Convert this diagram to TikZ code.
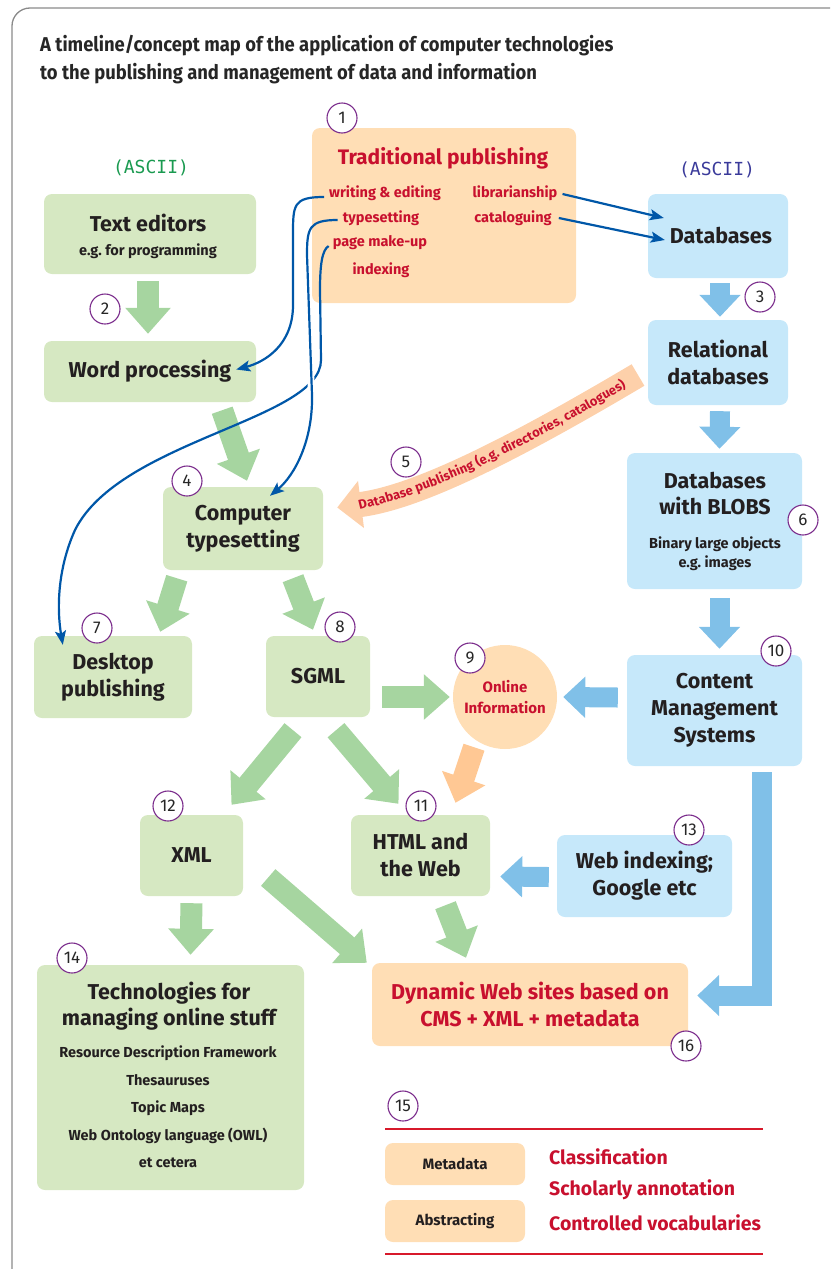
\documentclass[tikz,border=0pt]{standalone}
\usepackage{fontspec}
\usetikzlibrary{arrows.meta,calc,decorations.text}
\newfontfamily\cf{Fira Sans}
\newfontfamily\tf[FakeStretch=0.92]{Fira Sans}
\newfontfamily\nf{Fira Sans}
\newfontfamily\mf{DejaVu Sans Mono}
\newcommand\myfs[2]{\fontsize{#1}{#2}\selectfont}
\definecolor{boxgreen}{HTML}{D6E8C2}
\definecolor{arrgreen}{HTML}{A6D5A0}
\definecolor{boxblue}{HTML}{C6E8FA}
\definecolor{arrblue}{HTML}{80C0E8}
\definecolor{boxorange}{HTML}{FFDEB5}
\definecolor{arrorange}{HTML}{FFC894}
\definecolor{band}{HTML}{FDD0AA}
\definecolor{textred}{HTML}{C8102E}
\definecolor{textdark}{HTML}{231F20}
\definecolor{connblue}{HTML}{0057A8}
\definecolor{numpurple}{HTML}{7B2C8C}
\definecolor{asciigreen}{HTML}{1A9A50}
\definecolor{asciiblue}{HTML}{3A3A9A}
\definecolor{legendred}{HTML}{D7192B}
\definecolor{framegray}{HTML}{8A8A8A}
\begin{document}
\begin{tikzpicture}[x=1pt,y=-1pt,
  gbox/.style={fill=boxgreen, rounded corners=8pt, inner sep=0pt, align=center, text=textdark, font=\cf\bfseries\myfs{21.5}{27}},
  bbox/.style={fill=boxblue, rounded corners=8pt, inner sep=0pt, align=center, text=textdark, font=\cf\bfseries\myfs{21.5}{27}},
  obox/.style={fill=boxorange, rounded corners=8pt, inner sep=0pt, align=center, text=textred, font=\cf\bfseries\myfs{21.5}{27}},
  hd/.style={font=\cf\bfseries\myfs{21.5}{26}, text=textdark, align=center, inner sep=0pt},
  sm/.style={font=\cf\bfseries\myfs{14.5}{19}, text=textdark, align=center, inner sep=0pt},
  reditem/.style={font=\cf\bfseries\myfs{14.5}{18}, text=textred, inner sep=0pt},
  legtext/.style={font=\cf\bfseries\myfs{19.5}{22}, text=textred, inner sep=0pt, anchor=west},
  num/.style={circle, draw=numpurple, fill=white, line width=1.1pt, minimum size=30pt, inner sep=0pt, font=\nf\myfs{17}{17}, text=black!85},
  garrow/.style={draw=arrgreen, line width=22pt, -{Triangle[width=44pt,length=26pt]}},
  barrow/.style={draw=arrblue, line width=20pt, -{Triangle[width=40pt,length=22pt]}},
  oarrow/.style={draw=arrorange, line width=22pt, -{Triangle[width=44pt,length=26pt]}},
  conn/.style={draw=connblue, line width=2.2pt, -{Stealth[length=14pt,width=11pt,inset=3pt]}},
  ascii/.style={font=\mf\myfs{18}{18}, inner sep=0pt}
]
\useasboundingbox (0,0) rectangle (830,1269);
\clip (0,0) rectangle (830,1269);
\draw[framegray, line width=1.3pt, rounded corners=18pt] (12,8) rectangle (870,1300);

% title
\node[anchor=west, font=\tf\bfseries\myfs{20}{28}, text=black!85, align=left, inner sep=0pt] (title) at (40,60)
  {A timeline/concept map of the application of computer technologies\\to the publishing and management of data and information};

% ascii labels
\node[ascii, text=asciigreen] (asg) at (151,168) {(ASCII)};
\node[ascii, text=asciiblue] (asb) at (717,170) {(ASCII)};

% Traditional publishing
\node[obox, minimum width=264pt, minimum height=175pt] (tp) at (444,215.5) {};
\node[font=\cf\bfseries\myfs{21}{24}, text=textred, inner sep=0pt] (tpt) at (443,158) {Traditional publishing};
\node[reditem] (we) at (385,193) {writing \& editing};
\node[reditem] (ts) at (381,218) {typesetting};
\node[reditem] (pm) at (380,243) {page make-up};
\node[reditem] (ix) at (381,270) {indexing};
\node[reditem] (lib) at (515,193) {librarianship};
\node[reditem] (cat) at (513,218) {cataloguing};

% left column boxes
\node[gbox, minimum width=212pt, minimum height=80pt] (te) at (150,234) {};
\node[hd] (tet) at (148,223) {Text editors};
\node[sm] (tes) at (148,251) {e.g.\ for programming};
\node[gbox, minimum width=212pt, minimum height=61pt] (wp) at (150,371.5) {Word processing};
\node[gbox, minimum width=160pt, minimum height=83pt] (ct) at (243,528.5) {Computer\\typesetting};
\node[gbox, minimum width=158pt, minimum height=82pt] (dp) at (113,677) {Desktop\\publishing};
\node[gbox, minimum width=104pt, minimum height=81pt] (sgml) at (318,676.5) {SGML};
\node[circle, fill=boxorange, minimum size=104pt, inner sep=0pt, align=center, text=textred, font=\cf\bfseries\myfs{15}{21}] (oi) at (505,697) {Online\\Information};
\node[gbox, minimum width=103pt, minimum height=81pt] (xml) at (191.5,855.5) {XML};
\node[gbox, minimum width=139pt, minimum height=81pt] (html) at (420.5,855.5) {HTML and\\the Web};
\node[gbox, minimum width=267pt, minimum height=225pt] (tech) at (170.5,1077.5) {};
\node[hd] (techt) at (169,1006.5) {Technologies for\\managing online stuff};
\node[sm, font=\cf\bfseries\myfs{14.5}{27.5}] (techs) at (168,1107) {Resource Description Framework\\Thesauruses\\Topic Maps\\Web Ontology language (OWL)\\et cetera};
\node[obox, minimum width=316pt, minimum height=83pt] (dyn) at (530,1004.5) {Dynamic Web sites based on\\CMS + XML + metadata};

% right column boxes
\node[bbox, minimum width=140pt, minimum height=84pt] (db) at (718,236) {\hspace*{6pt}Databases};
\node[bbox, minimum width=140pt, minimum height=85pt] (rdb) at (718,362.5) {Relational\\databases};
\node[bbox, minimum width=175pt, minimum height=136pt] (blob) at (714.5,521) {};
\node[hd] (blobt) at (715,494) {Databases\\with BLOBS};
\node[sm] (blobs) at (715,554) {Binary large objects\\e.g.\ images};
\node[bbox, minimum width=175pt, minimum height=111pt] (cms) at (714.5,710.5) {Content\\Management\\Systems};
\node[bbox, minimum width=175pt, minimum height=82pt] (wi) at (644.5,876) {Web indexing;\\Google etc};

% legend
\node[obox, minimum width=140pt, minimum height=42pt, text=textdark, font=\cf\bfseries\myfs{15}{18}] (meta) at (455,1164) {Metadata};
\node[obox, minimum width=140pt, minimum height=42pt, text=textdark, font=\cf\bfseries\myfs{15}{18}] (abs) at (455,1221) {Abstracting};
\node[legtext] (cls) at (549,1157) {Classification};
\node[legtext] (sch) at (549,1190) {Scholarly annotation};
\node[legtext] (cv) at (549,1223) {Controlled vocabularies};
\coordinate (l1a) at (385,1129); \coordinate (l1b) at (763,1129);
\coordinate (l2a) at (385,1254); \coordinate (l2b) at (763,1254);
\draw[legendred, line width=2.5pt] (l1a) -- (l1b);
\draw[legendred, line width=2.5pt] (l2a) -- (l2b);

% fat green arrows
\draw[garrow] ($(te.south)+(-2,7)$) -- ($(wp.north)+(-2,-7)$);
\draw[garrow] ($(wp.south east)+(-34,8)$) -- ($(ct.north)+(4,-6)$);
\draw[garrow] ($(ct.south west)+(14,8)$) -- ($(dp.north east)+(-32,-4)$);
\draw[garrow] ($(ct.south)+(50,8)$) -- ($(sgml.north)+(-5,-6)$);
\draw[garrow] ($(sgml.east)+(12,20.5)$) -- ($(oi.west)+(-3,0)$);
\draw[garrow] ($(sgml.south)+(-25,13)$) -- ($(xml.north)+(40,-10)$);
\draw[garrow] ($(sgml.south)+(18,13)$) -- ($(html.north)+(-22,-11)$);
\draw[garrow] ($(xml.south)+(0,7)$) -- ($(tech.north)+(20,-10)$);
\draw[garrow] ($(xml.east)+(25,22)$) -- ($(dyn.north west)+(-5,0)$);
\draw[garrow] ($(html.south)+(25,9)$) -- ($(dyn.north)+(-64,-5)$);
% orange arrow
\draw[oarrow] ($(oi.south)+(-31,-2)$) -- ($(html.north)+(35,-12)$);
% blue arrows
\draw[barrow] ($(db.south)+(2,5)$) -- ($(rdb.north)+(2,-3)$);
\draw[barrow] ($(rdb.south)+(2,6)$) -- ($(blob.north)+(5,-4)$);
\draw[barrow] ($(blob.south)+(5,9)$) -- ($(cms.north)+(5,-6)$);
\draw[barrow] ($(cms.west)+(-9,-13)$) -- ($(oi.east)+(6,0)$);
\draw[barrow] ($(wi.west)+(-8,1)$) -- ($(html.east)+(10,21)$);
\draw[barrow, line join=miter] ($(cms.south)+(47.5,6)$) |- ($(dyn.east)+(9,-9)$);

% database publishing band
\coordinate (dbtail) at (638,375);
\coordinate (dbtip) at ($(ct.east)+(14,-21)$);
\draw[draw=band, line width=25pt, -{Triangle[width=46pt,length=24pt]}] (dbtail) .. controls (520,445) and (420,497) .. (dbtip);
\path[decorate, decoration={text along path, text color=textred,
   text={|\cf\bfseries\myfs{13}{13}|Database publishing (e.g. directories, catalogues)},
   text align=center, raise=-4.5pt}] (352,507) .. controls (425,492) and (520,445) .. (630,380);

% blue connectors
\draw[conn] ($(lib.east)+(5,1)$) -- ($(db.west)+(16,-18)$);
\draw[conn] ($(cat.east)+(7,0)$) -- ($(db.west)+(17,4)$);
\draw[conn] ($(we.west)+(-5,4)$) .. controls (293,197) and (293,205) .. (293,235) -- (293,305) .. controls (293,345) and (265,362) .. ($(wp.east)+(-20,-2)$);
\draw[conn] ($(pm.west)+(-4,3)$) .. controls (322,250) and (320,265) .. (320,290) -- (321,360) .. controls (321,420) and (120,440) .. (75,530) .. controls (57,570) and (57,610) .. ($(dp.north west)+(29,9)$);
\draw[white, line width=7pt] (310.5,370) -- (311.6,400);
\draw[conn] ($(ts.west)+(-5,2)$) .. controls (309,220) and (307,228) .. (307,255) -- (312,395) .. controls (313,440) and (295,475) .. ($(ct.north)+(27,9)$);

% number circles
\node[num] (n1) at (342,118) {1};
\node[num] (n2) at (105,309) {2};
\node[num] (n3) at (760,297) {3};
\node[num] (n4) at (187,481) {4};
\node[num] (n5) at (406,462) {5};
\node[num] (n6) at (803,520) {6};
\node[num] (n7) at (97,628) {7};
\node[num] (n8) at (340,627) {8};
\node[num] (n9) at (470,658) {9};
\node[num] (n10) at (776,651) {10};
\node[num] (n11) at (421,806) {11};
\node[num] (n12) at (168,806) {12};
\node[num] (n13) at (689,830) {13};
\node[num] (n14) at (72,958) {14};
\node[num] (n15) at (403,1106) {15};
\node[num] (n16) at (686,1046) {16};
\end{tikzpicture}
\end{document}
